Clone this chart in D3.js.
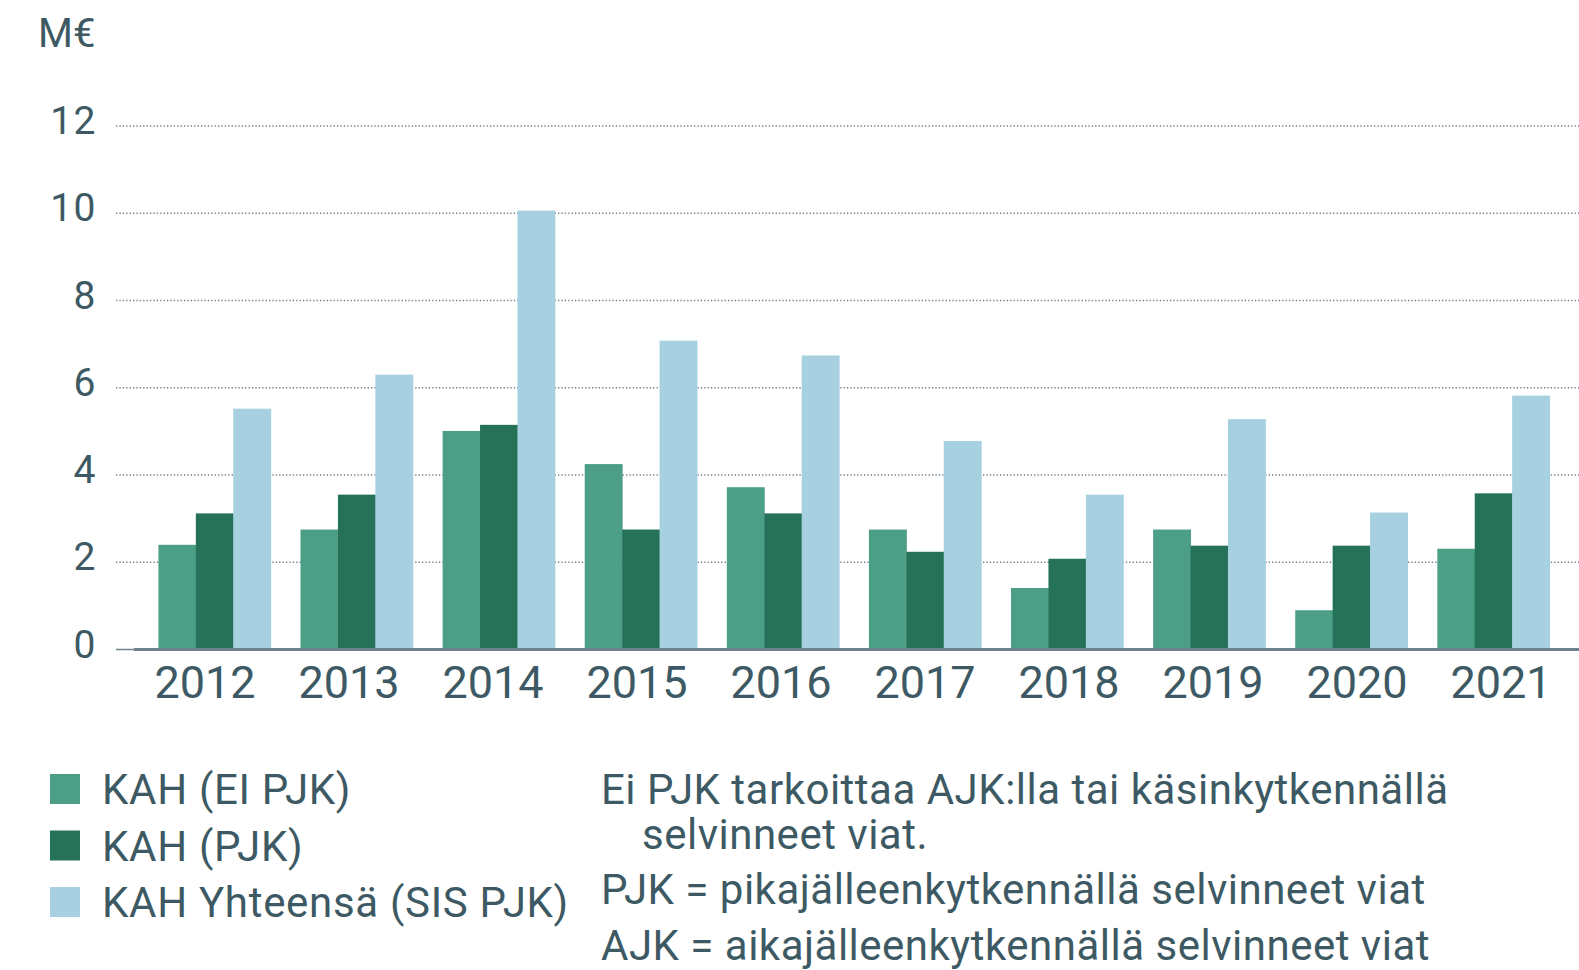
<!DOCTYPE html>
<html>
<head>
<meta charset="utf-8">
<script src="https://cdn.jsdelivr.net/npm/d3@7"></script>
<style>
	body { margin: 0; background: #fff; }
	svg { display: block; }
	text { font-family: Roboto, "Open Sans", sans-serif; fill: #3d5963; }
</style>
</head>
<body>
<script>

var years = ["2012", "2013", "2014", "2015", "2016", "2017", "2018", "2019", "2020", "2021"];
var eiPjk = [2.40, 2.75, 5.01, 4.25, 3.72, 2.75, 1.41, 2.75, 0.90, 2.31];
var pjk = [3.12, 3.55, 5.15, 2.75, 3.12, 2.24, 2.08, 2.38, 2.38, 3.58];
var yhteensa = [5.52, 6.30, 10.06, 7.08, 6.74, 4.78, 3.55, 5.28, 3.14, 5.82];
var yTicks = [0, 2, 4, 6, 8, 10, 12];

var seriesNames = ["KAH (EI PJK)", "KAH (PJK)", "KAH Yhteensä (SIS PJK)"];
var seriesColors = ["#4c9e86", "#267259", "#a7d0e1"];
var notes = [
	"Ei PJK tarkoittaa AJK:lla tai käsinkytkennällä",
	"selvinneet viat.",
	"PJK = pikajälleenkytkennällä selvinneet viat",
	"AJK = aikajälleenkytkennällä selvinneet viat"
];

var width = 1579, height = 970;

var svg = d3.select("body").append("svg")
			.attr("width", width)
			.attr("height", height);

var y = d3.scaleLinear().domain([0, 12]).range([649.5, 126]);

var x = d3.scaleBand()
			.domain(years)
			.range([130, 1578])
			.paddingInner(0.21)
			.paddingOuter(0.2);

var xSeries = d3.scaleBand()
			.domain([0, 1, 2])
			.range([0, x.bandwidth()]);

// year labels sit on their own even spacing in the original
var xLabel = d3.scalePoint()
			.domain(years)
			.range([205, 1501]);

// gridlines (dotted)
svg.append("g").selectAll("line")
	.data(yTicks.filter(function(d){ return d > 0; }))
	.enter().append("line")
	.attr("x1", 116)
	.attr("x2", width)
	.attr("y1", function(d){ return y(d); })
	.attr("y2", function(d){ return y(d); })
	.attr("stroke", "#6d7f88")
	.attr("stroke-width", 1.5)
	.attr("stroke-dasharray", "1.3 2.1");

// y tick labels
svg.append("g").selectAll("text")
	.data(yTicks)
	.enter().append("text")
	.attr("x", 97)
	.attr("y", function(d){ return y(d) + 8; })
	.attr("text-anchor", "end")
	.style("font-size", "39px")
	.style("letter-spacing", "1.5px")
	.text(function(d){ return d; });

svg.append("text")
	.attr("x", 38)
	.attr("y", 47)
	.style("font-size", "40px")
	.text("M€");

// bars
var series = [eiPjk, pjk, yhteensa];
var groups = svg.append("g").selectAll("g")
			.data(years)
			.enter().append("g")
			.attr("transform", function(d){ return "translate(" + x(d) + ",0)"; });

groups.selectAll("rect")
	.data(function(d, i){ return series.map(function(s, k){ return {k: k, v: s[i]}; }); })
	.enter().append("rect")
	.attr("x", function(d){ return xSeries(d.k); })
	.attr("width", xSeries.bandwidth() + 0.5)
	.attr("y", function(d){ return y(d.v); })
	.attr("height", function(d){ return y(0) - y(d.v); })
	.attr("fill", function(d){ return seriesColors[d.k]; });

// baseline
svg.append("line")
	.attr("x1", 116).attr("x2", 134)
	.attr("y1", y(0)).attr("y2", y(0))
	.attr("stroke", "#6f828c")
	.attr("stroke-width", 1.5);
svg.append("line")
	.attr("x1", 134).attr("x2", width)
	.attr("y1", y(0)).attr("y2", y(0))
	.attr("stroke", "#6f828c")
	.attr("stroke-width", 3);

// x axis labels
svg.append("g").selectAll("text")
	.data(years)
	.enter().append("text")
	.attr("x", function(d){ return xLabel(d); })
	.attr("y", 698)
	.attr("text-anchor", "middle")
	.style("font-size", "45px")
	.text(function(d){ return d; });

// legend
var legend = svg.append("g").selectAll("g")
			.data(seriesNames)
			.enter().append("g")
			.attr("transform", function(d, i){ return "translate(50," + (774 + i * 56.5) + ")"; });

legend.append("rect")
	.attr("width", 30)
	.attr("height", 30)
	.attr("fill", function(d, i){ return seriesColors[i]; });

legend.append("text")
	.attr("x", 52)
	.attr("y", 30)
	.style("font-size", "42px")
	.style("letter-spacing", "0.7px")
	.text(function(d){ return d; });

// notes on the right
var noteX = [601, 642, 601, 601];
var noteY = [804, 849, 904, 960];
svg.append("g").selectAll("text")
	.data(notes)
	.enter().append("text")
	.attr("x", function(d, i){ return noteX[i]; })
	.attr("y", function(d, i){ return noteY[i]; })
	.style("font-size", "42px")
	.style("letter-spacing", "0.5px")
	.text(function(d){ return d; });

</script>
</body>
</html>
